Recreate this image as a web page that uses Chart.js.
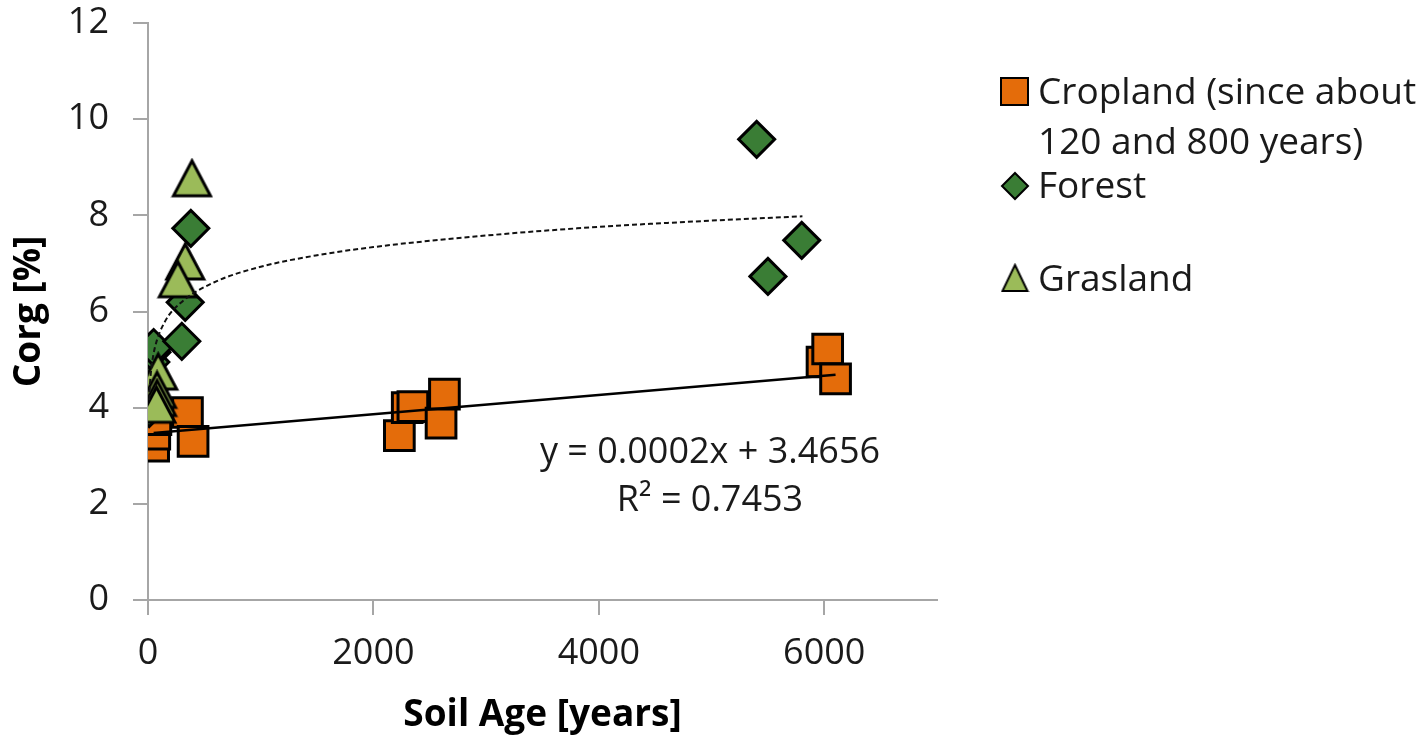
<!DOCTYPE html>
<html>
<head>
<meta charset="utf-8">
<script src="https://cdn.jsdelivr.net/npm/chart.js@4/dist/chart.umd.min.js"></script>
<style>
  html, body { margin: 0; padding: 0; background: #ffffff; }
  #wrap { width: 1427px; height: 741px; position: relative; }
</style>
</head>
<body>
<div id="wrap"><canvas id="chart" width="1427" height="741"></canvas></div>
<script>
// Soil age [years] and organic carbon [%] per land use
const croplandAge  = [50, 60, 70, 350, 400, 2230, 2300, 2350, 2600, 2630, 5980, 6030, 6100];
const croplandCorg = [3.2, 3.45, 3.75, 3.9, 3.3, 3.42, 4.0, 4.02, 3.68, 4.28, 4.95, 5.22, 4.6];

const forestAge  = [10, 15, 20, 25, 35, 50, 300, 330, 380, 5400, 5500, 5800];
const forestCorg = [3.98, 4.1, 4.4, 4.95, 5.15, 5.25, 5.38, 6.19, 7.73, 9.58, 6.73, 7.48];

const graslandAge  = [390, 330, 265, 90, 80, 80, 75];
const graslandCorg = [8.77, 7.04, 6.67, 4.75, 4.37, 4.2, 4.06];

// Linear trend of the cropland series (as printed on the chart)
const cropSlope = 0.0002;
const cropIntercept = 3.4656;
const cropR2 = 0.7453;

// Dotted logarithmic trend curve
const trendAge  = [10, 20, 35, 60, 150, 300, 600, 1000, 1500, 2000, 3000, 4000, 5000, 5806];
const trendCorg = [4.16, 4.58, 4.91, 5.24, 5.79, 6.20, 6.62, 6.93, 7.17, 7.34, 7.58, 7.76, 7.89, 7.98];

const ageTicks  = [0, 2000, 4000, 6000];
const corgTicks = [0, 2, 4, 6, 8, 10, 12];

const legendLabels = [["Cropland (since about", "120 and 800 years)"], ["Forest"], ["Grasland"]];

const ORANGE = '#e46c0a';
const FOREST = '#3a7d35';
const GRASS  = '#9bbb59';
const FONT   = '"Open Sans", Lato, sans-serif';

function pairs(xs, ys) { return xs.map((x, i) => ({ x: x, y: ys[i] })); }

// Triangle marker centred on its bounding box
function triangleMarker(w, h, lw) {
  const c = document.createElement('canvas');
  c.width = Math.ceil(w + lw * 2);
  c.height = Math.ceil(h + lw * 2);
  const g = c.getContext('2d');
  const ox = (c.width - w) / 2, oy = (c.height - h) / 2;
  g.beginPath();
  g.moveTo(ox + w / 2, oy);
  g.lineTo(ox + w, oy + h);
  g.lineTo(ox, oy + h);
  g.closePath();
  g.fillStyle = GRASS;
  g.fill();
  g.lineWidth = lw;
  g.lineJoin = 'miter';
  g.strokeStyle = '#000';
  g.stroke();
  return c;
}
const triBig = triangleMarker(37, 35, 3);
const triSmall = triangleMarker(25, 26, 2);

const cropMin = Math.min(...croplandAge), cropMax = Math.max(...croplandAge);
const cropLine = [
  { x: cropMin, y: cropIntercept + cropSlope * cropMin },
  { x: cropMax, y: cropIntercept + cropSlope * cropMax }
];

const annotations = {
  id: 'annotations',
  afterDraw(chart) {
    const ctx = chart.ctx;
    ctx.save();
    // regression label
    ctx.fillStyle = '#1a1a1a';
    ctx.font = '36px ' + FONT;
    ctx.textAlign = 'center';
    ctx.textBaseline = 'alphabetic';
    ctx.fillText('y = ' + cropSlope.toFixed(4) + 'x + ' + cropIntercept.toFixed(4), 710, 463);
    ctx.fillText('R\u00B2 = ' + cropR2.toFixed(4), 710, 511);

    // legend
    ctx.textAlign = 'left';
    ctx.font = '37px ' + FONT;
    // cropland square
    ctx.fillStyle = ORANGE;
    ctx.strokeStyle = '#000';
    ctx.lineWidth = 2;
    ctx.fillRect(1001, 78, 27, 27);
    ctx.strokeRect(1001, 78, 27, 27);
    ctx.fillStyle = '#1a1a1a';
    ctx.fillText(legendLabels[0][0], 1038, 104);
    ctx.fillText(legendLabels[0][1], 1038, 154);
    // forest diamond
    ctx.beginPath();
    ctx.moveTo(1015, 173); ctx.lineTo(1028, 186); ctx.lineTo(1015, 199); ctx.lineTo(1002, 186);
    ctx.closePath();
    ctx.fillStyle = FOREST; ctx.fill(); ctx.stroke();
    ctx.fillStyle = '#1a1a1a';
    ctx.fillText(legendLabels[1][0], 1038, 198);
    // grasland triangle
    ctx.drawImage(triSmall, 1015 - triSmall.width / 2, 278 - triSmall.height / 2);
    ctx.fillText(legendLabels[2][0], 1038, 291);
    ctx.restore();
  }
};

new Chart(document.getElementById('chart'), {
  type: 'scatter',
  data: {
    datasets: [
      {
        label: 'Cropland trend',
        data: cropLine,
        showLine: true,
        borderColor: '#000',
        borderWidth: 2.5,
        pointRadius: 0,
        order: 0
      },
      {
        label: 'Log trend',
        data: pairs(trendAge, trendCorg),
        showLine: true,
        borderColor: '#111',
        borderWidth: 2,
        borderDash: [5, 3],
        cubicInterpolationMode: 'monotone',
        pointRadius: 0,
        order: 0
      },
      {
        label: 'Grasland',
        data: pairs(graslandAge, graslandCorg),
        pointStyle: triBig,
        pointRadius: 20,
        order: 1
      },
      {
        label: 'Forest',
        data: pairs(forestAge, forestCorg),
        pointStyle: 'rectRot',
        pointRadius: 18,
        backgroundColor: FOREST,
        borderColor: '#000',
        borderWidth: 3,
        order: 2
      },
      {
        label: 'Cropland (since about 120 and 800 years)',
        data: pairs(croplandAge, croplandCorg),
        pointStyle: 'rect',
        pointRadius: 21,
        backgroundColor: ORANGE,
        borderColor: '#000',
        borderWidth: 3,
        order: 3
      }
    ]
  },
  options: {
    responsive: false,
    animation: false,
    devicePixelRatio: 1,
    events: [],
    layout: { autoPadding: false, padding: { left: 0, right: 490, top: 0, bottom: 0 } },
    plugins: { legend: { display: false }, tooltip: { enabled: false } },
    scales: {
      x: {
        type: 'linear',
        min: 0, max: 7000,
        afterBuildTicks: (s) => { s.ticks = ageTicks.map(v => ({ value: v })); },
        afterFit: (s) => { s.height = 141; },
        grid: { drawOnChartArea: false, drawTicks: true, tickLength: 15, color: '#a6a6a6', lineWidth: 2 },
        border: { display: true, color: '#a6a6a6', width: 2 },
        ticks: {
          padding: 17,
          color: '#1a1a1a',
          font: { family: FONT, size: 36 },
          callback: (v) => String(v),
          maxRotation: 0
        },
        title: {
          display: true,
          text: 'Soil Age [years]',
          color: '#000',
          font: { family: FONT, size: 37, weight: 'bold' },
          padding: { top: 0, bottom: 3 }
        }
      },
      y: {
        type: 'linear',
        min: 0, max: 12,
        afterBuildTicks: (s) => { s.ticks = corgTicks.map(v => ({ value: v })); },
        afterFit: (s) => { s.width = 148; s.paddingTop = 23; s.paddingBottom = 0; },
        grid: { drawOnChartArea: false, drawTicks: true, tickLength: 15, color: '#a6a6a6', lineWidth: 2 },
        border: { display: true, color: '#a6a6a6', width: 2 },
        ticks: {
          padding: 24,
          color: '#1a1a1a',
          font: { family: FONT, size: 36 },
          callback: (v) => String(v)
        },
        title: {
          display: true,
          text: 'Corg [%]',
          color: '#000',
          font: { family: FONT, size: 37, weight: 'bold' },
          padding: { top: 7, bottom: 0 }
        }
      }
    }
  },
  plugins: [annotations]
});
</script>
</body>
</html>
